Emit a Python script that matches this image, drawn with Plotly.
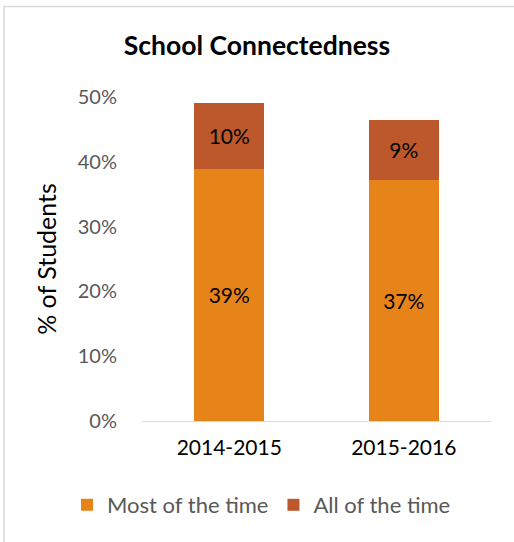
import plotly.graph_objects as go

categories = ["2014-2015", "2015-2016"]
most_of_time = [38.9, 37.2]
all_of_time = [10.2, 9.3]
most_labels = ["39%", "37%"]
all_labels = ["10%", "9%"]
tick_vals = [0, 10, 20, 30, 40, 50]
tick_text = ["0%", "10%", "20%", "30%", "40%", "50%"]

FONT = "Lato"

fig = go.Figure()
fig.add_trace(go.Bar(
    x=categories, y=most_of_time, name="Most of the time",
    marker=dict(color="#E6841A", line=dict(width=0)),
    text=most_labels, textposition="inside", insidetextanchor="middle",
    textfont=dict(family=FONT, size=21, color="#000000"),
))
fig.add_trace(go.Bar(
    x=categories, y=all_of_time, name="All of the time",
    marker=dict(color="#BD582C", line=dict(width=0)),
    text=all_labels, textposition="inside", insidetextanchor="middle",
    textfont=dict(family=FONT, size=21, color="#000000"),
))

fig.update_layout(
    barmode="stack",
    bargap=0.6,
    width=514, height=542,
    margin=dict(l=142, r=23, t=97, b=121, autoexpand=False),
    paper_bgcolor="white", plot_bgcolor="white",
    font=dict(family=FONT),
    title=dict(text="<b>School Connectedness</b>", x=0.5, xanchor="center",
               y=1 - 46 / 542, yanchor="middle",
               font=dict(family=FONT, size=26.5, color="#000000")),
    xaxis=dict(showgrid=False, showline=True, linecolor="#D9D9D9", linewidth=1,
               ticks="", ticklabelstandoff=8,
               tickfont=dict(family=FONT, size=21, color="#000000")),
    yaxis=dict(range=[0, 50], tickvals=tick_vals, ticktext=tick_text,
               showgrid=False, zeroline=False, showline=False, ticks="",
               ticklabelstandoff=24,
               tickfont=dict(family=FONT, size=20, color="#595959"),
               title=dict(text="% of Students", standoff=14,
                          font=dict(family=FONT, size=25, color="#000000"))),
    legend=dict(orientation="h", x=(67 - 142) / 349, xanchor="left",
                y=(421 - 505) / 324, yanchor="middle",
                font=dict(family=FONT, size=22, color="#595959"),
                traceorder="normal", itemwidth=30),
    showlegend=True,
    uniformtext=dict(mode="show", minsize=10),
)

fig.add_shape(type="rect", xref="paper", yref="paper",
              x0=(4 - 142) / 349, x1=(530 - 142) / 349,
              y0=(421 - 560) / 324, y1=(421 - 6.5) / 324,
              line=dict(color="#D9D9D9", width=1.5), fillcolor="rgba(0,0,0,0)",
              layer="below")

fig.write_html("out.html", config={"displayModeBar": False},
               post_script="document.body.style.margin='0';document.body.style.overflow='hidden';")
